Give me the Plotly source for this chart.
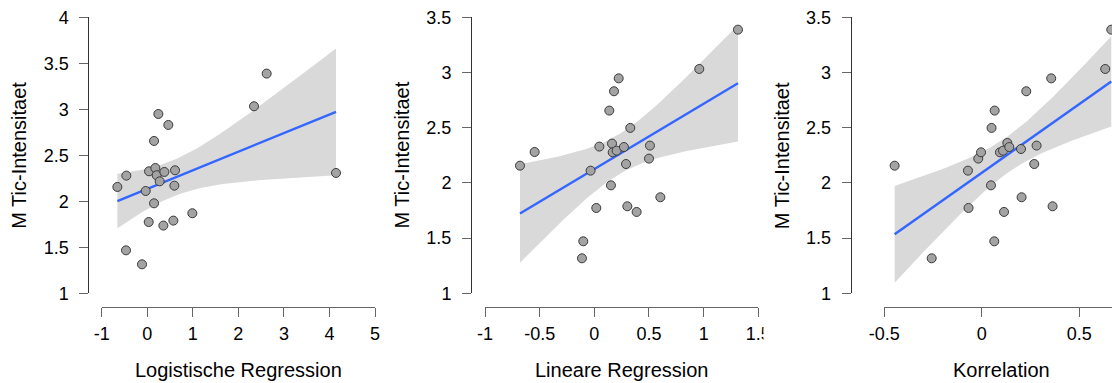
import numpy as np
import plotly.graph_objects as go

# ---------------- data ----------------
x_logreg = [-0.656, -0.459, -0.466, -0.115, -0.034, 0.039, 0.032, 0.149, 0.244, 0.463,
            0.178, 0.207, 0.273, 0.376, 0.149, 0.354, 0.573, 0.595, 0.610, 0.990,
            2.344, 2.622, 4.144]
y_logreg = [2.156, 2.279, 1.467, 1.315, 2.112, 2.326, 1.775, 2.656, 2.949, 2.830,
            2.362, 2.283, 2.217, 2.319, 1.978, 1.736, 1.790, 2.170, 2.337, 1.870,
            3.033, 3.388, 2.308]

x_linreg = [-0.680, -0.546, -0.034, 0.046, 0.018, -0.101, -0.113, 0.137, 0.180, 0.223,
            0.162, 0.168, 0.204, 0.271, 0.152, 0.329, 0.290, 0.302, 0.387, 0.509,
            0.500, 0.604, 0.960, 1.314]
y_linreg = [2.156, 2.280, 2.111, 2.329, 1.773, 1.471, 1.317, 2.655, 2.830, 2.947,
            2.356, 2.277, 2.292, 2.325, 1.978, 2.498, 2.171, 1.788, 1.737, 2.338,
            2.220, 1.870, 3.032, 3.388]

x_korr = [-0.447, -0.257, -0.071, -0.068, -0.018, -0.004, 0.047, 0.050, 0.066, 0.064,
          0.093, 0.109, 0.131, 0.141, 0.114, 0.201, 0.204, 0.228, 0.269, 0.281,
          0.356, 0.363, 0.633, 0.664]
y_korr = [2.156, 1.317, 2.111, 1.773, 2.220, 2.277, 1.978, 2.498, 2.655, 1.471,
          2.277, 2.292, 2.362, 2.325, 1.737, 2.307, 1.870, 2.830, 2.171, 2.338,
          2.947, 1.788, 3.032, 3.388]

x_titles = ["Logistische Regression", "Lineare Regression", "Korrelation"]
y_title = "M Tic-Intensitaet"

x_ticks_1 = [-1, 0, 1, 2, 3, 4, 5]
x_ticks_2 = [-1, -0.5, 0, 0.5, 1, 1.5]
x_ticks_3 = [-0.5, 0, 0.5, 1]
y_ticks_1 = [1, 1.5, 2, 2.5, 3, 3.5, 4]
y_ticks_23 = [1, 1.5, 2, 2.5, 3, 3.5]

T_CRIT = {21: 2.0796, 22: 2.0739, 23: 2.0687}

# ---------------- layout geometry (pixels) ----------------
W, H = 1112, 383
panels = [
    dict(x=x_logreg, y=y_logreg, xr=[-1, 5], yr=[1, 4], xt=x_ticks_1, yt=y_ticks_1,
         px=(101.7, 375.0), yaxis_px=88.3),
    dict(x=x_linreg, y=y_linreg, xr=[-1, 1.5], yr=[1, 3.5], xt=x_ticks_2, yt=y_ticks_23,
         px=(485.0, 758.3), yaxis_px=471.0),
    dict(x=x_korr, y=y_korr, xr=[-0.5, -0.5 + (1112 - 884.3) / 195.0], yr=[1, 3.5],
         xt=x_ticks_3, yt=y_ticks_23, px=(884.3, 1112.0), yaxis_px=850.7),
]
plot_top, plot_bot = 17.3, 293.3
xaxis_line_px = 306.7
title_centers = [238.3, 621.7, 1001.7]

LINE_COL = "#333333"
TICK_COL = "#666666"
FONT = "Liberation Sans, Arial, sans-serif"

fig = go.Figure()
layout = dict(
    width=W, height=H,
    margin=dict(l=0, r=0, t=0, b=0, pad=0, autoexpand=False),
    paper_bgcolor="white", plot_bgcolor="white", showlegend=False,
    font=dict(family=FONT, color="black"),
    annotations=[],
    # the third panel's canvas overlaps the edge of the second panel's last tick label
    shapes=[dict(type="rect", xref="paper", yref="paper", layer="above",
                 x0=763.5 / W, x1=775 / W, y0=1 - 352 / H, y1=1 - 318 / H,
                 fillcolor="white", line=dict(width=0))],
)

for i, p in enumerate(panels):
    k = "" if i == 0 else str(i + 1)
    xa, ya = "x" + k, "y" + k
    x = np.array(p["x"], float)
    y = np.array(p["y"], float)
    n = len(x)
    b1, b0 = np.polyfit(x, y, 1)
    resid = y - (b0 + b1 * x)
    s = np.sqrt(np.sum(resid ** 2) / (n - 2))
    sxx = np.sum((x - x.mean()) ** 2)
    xs = np.linspace(x.min(), x.max(), 80)
    fit = b0 + b1 * xs
    se = s * np.sqrt(1.0 / n + (xs - x.mean()) ** 2 / sxx)
    t = T_CRIT.get(n - 2, 2.07)
    lo, hi = fit - t * se, fit + t * se

    fig.add_trace(go.Scatter(x=np.concatenate([xs, xs[::-1]]),
                             y=np.concatenate([hi, lo[::-1]]),
                             fill="toself", fillcolor="#D9D9D9", line=dict(width=0),
                             mode="lines", hoverinfo="skip", xaxis=xa, yaxis=ya,
                             cliponaxis=False))
    fig.add_trace(go.Scatter(x=xs, y=fit, mode="lines",
                             line=dict(color="#3366FF", width=2.4),
                             xaxis=xa, yaxis=ya))
    fig.add_trace(go.Scatter(x=x, y=y, mode="markers",
                             marker=dict(size=9, color="#A3A3A3",
                                         line=dict(color="#3A3A3A", width=1)),
                             xaxis=xa, yaxis=ya, cliponaxis=False))

    x0, x1 = p["px"]
    layout["xaxis" + k] = dict(
        domain=[x0 / W, x1 / W], range=p["xr"], anchor="free",
        position=1 - xaxis_line_px / H, automargin=False,
        tickvals=p["xt"], ticktext=[("%g" % v) for v in p["xt"]],
        showline=True, linecolor=TICK_COL, linewidth=1,
        ticks="outside", ticklen=9, tickcolor=TICK_COL, tickwidth=1,
        showgrid=False, zeroline=False, ticklabelstandoff=2,
        tickfont=dict(size=18, family=FONT, color="black"),
    )
    layout["yaxis" + k] = dict(
        domain=[1 - plot_bot / H, 1 - plot_top / H], range=p["yr"], anchor="free",
        position=p["yaxis_px"] / W, automargin=False,
        tickvals=p["yt"], ticktext=[("%g" % v) for v in p["yt"]],
        showline=True, linecolor=LINE_COL, linewidth=1,
        ticks="outside", ticklen=9, tickcolor=TICK_COL, tickwidth=1,
        showgrid=False, zeroline=False, ticklabelstandoff=7,
        tickfont=dict(size=18, family=FONT, color="black"),
    )
    layout["annotations"].append(dict(
        text=x_titles[i], x=title_centers[i] / W, y=1 - 370.0 / H,
        xref="paper", yref="paper", xanchor="center", yanchor="middle",
        showarrow=False, font=dict(size=20, family=FONT, color="black")))
    layout["annotations"].append(dict(
        text=y_title, x=(p["yaxis_px"] - 68.8) / W, y=1 - 155.3 / H,
        xref="paper", yref="paper", xanchor="center", yanchor="middle",
        textangle=-90, showarrow=False,
        font=dict(size=20, family=FONT, color="black")))

fig.update_layout(**layout)
fig.write_html("out.html", config={"displayModeBar": False},
               post_script="document.body.style.margin='0px';")
